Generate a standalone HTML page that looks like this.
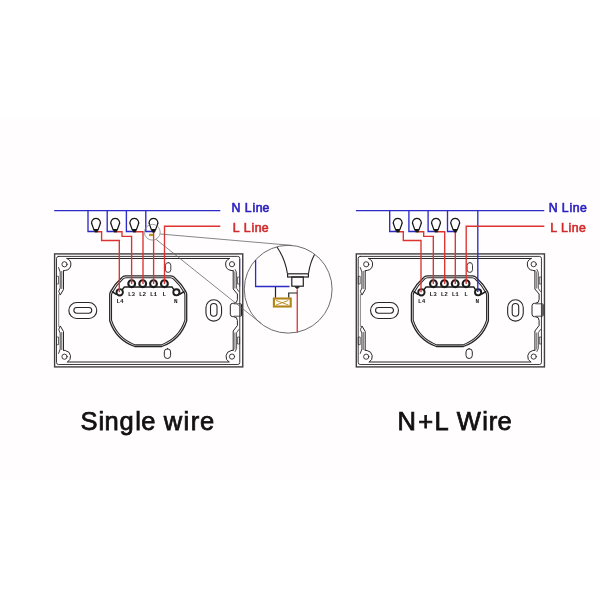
<!DOCTYPE html>
<html><head><meta charset="utf-8"><title>Wiring diagram</title>
<style>
html,body{margin:0;padding:0;background:#fff;}
body{width:600px;height:600px;overflow:hidden;position:relative;font-family:"Liberation Sans",sans-serif;}
svg{position:absolute;left:0;top:0;display:block;filter:blur(0.4px);}
</style></head>
<body>
<svg width="600" height="600" viewBox="0 0 600 600">
<rect width="600" height="600" fill="#fff"/>
<rect x="0" y="118.5" width="600" height="361" fill="#fffdfe"/>
<g transform="translate(0,0)" fill="none" stroke="#272727" stroke-width="1" stroke-linecap="round" stroke-linejoin="round">
<rect x="54.6" y="253.9" width="188.15" height="113" stroke="#404040" stroke-width="1.4" stroke-linejoin="miter"/>
<rect x="56.5" y="256.4" width="183.25" height="108.1" rx="2" stroke-width="0.9"/>
<path d="M67,258.5 H229.5 M67.6,362 H229"/>
<path d="M67,258.5 A6.2,6.2 0 0 1 65.5,270.4 L63.5,270.8"/>
<circle cx="64.5" cy="264.3" r="2.6" stroke-width="0.9"/>
<path d="M229.5,258.5 A6.2,6.2 0 0 0 231,270.4 L233.2,270.8"/>
<circle cx="232" cy="264.2" r="2.6" stroke-width="0.9"/>
<path d="M67.6,362 A6.2,6.2 0 0 0 65.5,350.6 L63.5,350.2"/>
<circle cx="64.5" cy="356.7" r="2.6" stroke-width="0.9"/>
<path d="M229,362 A6.2,6.2 0 0 1 231,350.6 L233.2,350.2"/>
<circle cx="232" cy="356.6" r="2.6" stroke-width="0.9"/>
<path d="M58.7,294.5 V326.5" stroke-width="0.7" stroke="#555"/>
<path d="M63.5,270.8 V289.5 L60.4,294.8"/>
<path d="M58.6,267.6 L60.2,272 V288 L58.7,291.3 L60,294.6" stroke-width="0.9"/>
<path d="M61.6,271 V289" stroke="#8a8a8a" stroke-width="1.6" stroke-linecap="butt"/>
<rect x="56.9" y="276.3" width="1.6" height="7.7" stroke-width="0.7"/>
<path d="M63.5,350.2 V331.5 L60.4,326.2"/>
<path d="M58.6,353.4 L60.2,349 V333 L58.7,329.7 L60,326.4" stroke-width="0.9"/>
<path d="M61.6,350 V332" stroke="#8a8a8a" stroke-width="1.6" stroke-linecap="butt"/>
<rect x="56.9" y="337" width="1.6" height="7.7" stroke-width="0.7"/>
<path d="M233.2,270.8 V289 L237.4,294 V299.5 Q237.4,303.3 233.5,303.3 H232.8 Q230.3,303.3 230.3,305.8 V314.2 Q230.3,316.7 232.8,316.7 H233.5 Q237.4,316.7 237.4,320.5 V325.5 L233.2,331 V350.2"/>
<path d="M235.2,269.5 L236.6,272.5 V288.3 L238.8,291.5 M235.2,351.5 L236.6,348.5 V332.7 L238.8,329.5" stroke-width="0.8"/>
<path d="M234.9,271.5 V288.5 M234.9,332.5 V349.5" stroke="#8a8a8a" stroke-width="1.4" stroke-linecap="butt"/>
<rect x="238" y="277" width="1.6" height="7" stroke-width="0.7"/><rect x="238" y="337" width="1.6" height="7" stroke-width="0.7"/>
<path d="M241.3,304.8 V315.2" stroke-width="1.4" stroke="#222"/>
<path d="M234,303.8 H240.8 M234,316.2 H240.8" stroke-width="0.8"/>
<rect x="68.85" y="302.55" width="27.9" height="15.9" rx="7.95" stroke-width="1.1"/>
<rect x="73.85" y="307.45" width="17.9" height="5.8" rx="2.9" stroke-width="1.1"/>
<rect x="205.95" y="299.75" width="15.6" height="21.4" rx="7.8" stroke-width="1.1"/>
<rect x="210.5" y="303.5" width="6.5" height="12.7" rx="3.25" stroke-width="1.1"/>
<rect x="165.4" y="262.6" width="5.4" height="9.8" rx="2.7" stroke-width="0.9"/>
<rect x="164.3" y="348.8" width="6.3" height="9.7" rx="3.1" stroke-width="1"/>
<path d="M125.4,275.8 H171 Q173,275.9 174.5,277.4 Q181.5,283.6 185.7,291.4 Q186.7,293 186.7,294.8 V320.7 A40.7,40.7 0 0 1 161.7,346.5 H134.7 A40.7,40.7 0 0 1 109.7,320.7 V294.8 Q109.7,293 110.7,291.4 Q114.9,283.6 121.9,277.4 Q123.4,275.9 125.4,275.8 Z" stroke-width="1.3"/>
<path d="M126,277.7 H170.4 Q172,277.8 173.3,278.9 Q180,285 184,292.4 Q184.9,293.8 184.9,295.2 V320.2 A38.9,38.9 0 0 1 161.2,344.9 H135.2 A38.9,38.9 0 0 1 111.5,320.2 V295.2 Q111.5,293.8 112.4,292.4 Q116.4,285 123.1,278.9 Q124.4,277.8 126,277.7 Z" stroke-width="1.1"/>
<path d="M112.3,291.7 L116.2,294.3 M122.6,289.3 L124.4,286.9 H172 L173.6,289.3 M180.1,294 L184,291.7" stroke-width="1.5" stroke="#1c1c1c"/>
</g>
<g transform="translate(301.7,0)" fill="none" stroke="#272727" stroke-width="1" stroke-linecap="round" stroke-linejoin="round">
<rect x="54.6" y="253.9" width="188.15" height="113" stroke="#404040" stroke-width="1.4" stroke-linejoin="miter"/>
<rect x="56.5" y="256.4" width="183.25" height="108.1" rx="2" stroke-width="0.9"/>
<path d="M67,258.5 H229.5 M67.6,362 H229"/>
<path d="M67,258.5 A6.2,6.2 0 0 1 65.5,270.4 L63.5,270.8"/>
<circle cx="64.5" cy="264.3" r="2.6" stroke-width="0.9"/>
<path d="M229.5,258.5 A6.2,6.2 0 0 0 231,270.4 L233.2,270.8"/>
<circle cx="232" cy="264.2" r="2.6" stroke-width="0.9"/>
<path d="M67.6,362 A6.2,6.2 0 0 0 65.5,350.6 L63.5,350.2"/>
<circle cx="64.5" cy="356.7" r="2.6" stroke-width="0.9"/>
<path d="M229,362 A6.2,6.2 0 0 1 231,350.6 L233.2,350.2"/>
<circle cx="232" cy="356.6" r="2.6" stroke-width="0.9"/>
<path d="M58.7,294.5 V326.5" stroke-width="0.7" stroke="#555"/>
<path d="M63.5,270.8 V289.5 L60.4,294.8"/>
<path d="M58.6,267.6 L60.2,272 V288 L58.7,291.3 L60,294.6" stroke-width="0.9"/>
<path d="M61.6,271 V289" stroke="#8a8a8a" stroke-width="1.6" stroke-linecap="butt"/>
<rect x="56.9" y="276.3" width="1.6" height="7.7" stroke-width="0.7"/>
<path d="M63.5,350.2 V331.5 L60.4,326.2"/>
<path d="M58.6,353.4 L60.2,349 V333 L58.7,329.7 L60,326.4" stroke-width="0.9"/>
<path d="M61.6,350 V332" stroke="#8a8a8a" stroke-width="1.6" stroke-linecap="butt"/>
<rect x="56.9" y="337" width="1.6" height="7.7" stroke-width="0.7"/>
<path d="M233.2,270.8 V289 L237.4,294 V299.5 Q237.4,303.3 233.5,303.3 H232.8 Q230.3,303.3 230.3,305.8 V314.2 Q230.3,316.7 232.8,316.7 H233.5 Q237.4,316.7 237.4,320.5 V325.5 L233.2,331 V350.2"/>
<path d="M235.2,269.5 L236.6,272.5 V288.3 L238.8,291.5 M235.2,351.5 L236.6,348.5 V332.7 L238.8,329.5" stroke-width="0.8"/>
<path d="M234.9,271.5 V288.5 M234.9,332.5 V349.5" stroke="#8a8a8a" stroke-width="1.4" stroke-linecap="butt"/>
<rect x="238" y="277" width="1.6" height="7" stroke-width="0.7"/><rect x="238" y="337" width="1.6" height="7" stroke-width="0.7"/>
<path d="M241.3,304.8 V315.2" stroke-width="1.4" stroke="#222"/>
<path d="M234,303.8 H240.8 M234,316.2 H240.8" stroke-width="0.8"/>
<rect x="68.85" y="302.55" width="27.9" height="15.9" rx="7.95" stroke-width="1.1"/>
<rect x="73.85" y="307.45" width="17.9" height="5.8" rx="2.9" stroke-width="1.1"/>
<rect x="205.95" y="299.75" width="15.6" height="21.4" rx="7.8" stroke-width="1.1"/>
<rect x="210.5" y="303.5" width="6.5" height="12.7" rx="3.25" stroke-width="1.1"/>
<rect x="165.4" y="262.6" width="5.4" height="9.8" rx="2.7" stroke-width="0.9"/>
<rect x="164.3" y="348.8" width="6.3" height="9.7" rx="3.1" stroke-width="1"/>
<path d="M125.4,275.8 H171 Q173,275.9 174.5,277.4 Q181.5,283.6 185.7,291.4 Q186.7,293 186.7,294.8 V320.7 A40.7,40.7 0 0 1 161.7,346.5 H134.7 A40.7,40.7 0 0 1 109.7,320.7 V294.8 Q109.7,293 110.7,291.4 Q114.9,283.6 121.9,277.4 Q123.4,275.9 125.4,275.8 Z" stroke-width="1.3"/>
<path d="M126,277.7 H170.4 Q172,277.8 173.3,278.9 Q180,285 184,292.4 Q184.9,293.8 184.9,295.2 V320.2 A38.9,38.9 0 0 1 161.2,344.9 H135.2 A38.9,38.9 0 0 1 111.5,320.2 V295.2 Q111.5,293.8 112.4,292.4 Q116.4,285 123.1,278.9 Q124.4,277.8 126,277.7 Z" stroke-width="1.1"/>
<path d="M112.3,291.7 L116.2,294.3 M122.6,289.3 L124.4,286.9 H172 L173.6,289.3 M180.1,294 L184,291.7" stroke-width="1.5" stroke="#1c1c1c"/>
</g>
<g transform="translate(0,0)" fill="#fff" stroke="#1c1c1c" stroke-width="2.1">
<circle cx="131.7" cy="283.7" r="3.4"/>
<circle cx="142.7" cy="283.7" r="3.4"/>
<circle cx="153.5" cy="283.7" r="3.4"/>
<circle cx="164.4" cy="283.7" r="3.4"/>
<circle cx="119.7" cy="292.3" r="3.2" stroke-width="1.9"/>
<circle cx="176.4" cy="292.3" r="3.1" stroke-width="1.9"/>
</g>
<g transform="translate(301.7,0)" fill="#fff" stroke="#1c1c1c" stroke-width="2.1">
<circle cx="131.7" cy="283.7" r="3.4"/>
<circle cx="142.7" cy="283.7" r="3.4"/>
<circle cx="153.5" cy="283.7" r="3.4"/>
<circle cx="164.4" cy="283.7" r="3.4"/>
<circle cx="119.7" cy="292.3" r="3.2" stroke-width="1.9"/>
<circle cx="176.4" cy="292.3" r="3.1" stroke-width="1.9"/>
</g>
<g transform="translate(0,0)" fill="none" stroke-width="1.35">
<g stroke="#2b2bc6">
<path d="M54.2,210.55 H220.3"/>
<path d="M88,210.55 V231.5 H94.5"/>
<path d="M107.2,210.55 V231.5 H113.7"/>
<path d="M126.4,210.55 V231.5 H132.8"/>
<path d="M145.8,210.55 V231.5 H152.0"/>
</g>
<g stroke="#dc3230">
<path d="M164.5,284 V226.25 H220.3"/>
<path d="M97,231.7 H101.6 V240.5 H119.3 V292.3"/>
<path d="M116.2,231.7 H122 V236.3 H131.6 V284"/>
<path d="M135.3,231.7 H143 V284"/>
<path d="M153.6,232 V284"/>
</g></g>
<g transform="translate(301.7,0)" fill="none" stroke-width="1.35">
<g stroke="#2b2bc6">
<path d="M54.2,210.55 H242.6"/>
<path d="M88,210.55 V231.5 H94.5"/>
<path d="M107.2,210.55 V231.5 H113.7"/>
<path d="M126.4,210.55 V231.5 H132.8"/>
<path d="M145.8,210.55 V231.5 H152.0"/>
<path d="M176.1,210.55 V292"/>
</g>
<g stroke="#dc3230">
<path d="M164.5,284 V226.25 H242.6"/>
<path d="M97,231.7 H101.6 V240.5 H119.3 V292.3"/>
<path d="M116.2,231.7 H122 V236.3 H131.6 V284"/>
<path d="M135.3,231.7 H143 V284"/>
<path d="M153.6,232 V284"/>
</g></g>
<g transform="translate(0,0)" font-family="'Liberation Mono', monospace" font-weight="bold" font-size="6" fill="#1a1a1a" text-anchor="middle">
<text x="131.5" y="295.7">L3</text>
<text x="142.6" y="295.7">L2</text>
<text x="153.6" y="295.7">L1</text>
<text x="164.4" y="295.7">L</text>
<text x="120" y="303.3">L4</text>
<text x="175.7" y="303.3">N</text>
</g>
<g transform="translate(301.7,0)" font-family="'Liberation Mono', monospace" font-weight="bold" font-size="6" fill="#1a1a1a" text-anchor="middle">
<text x="131.5" y="295.7">L3</text>
<text x="142.6" y="295.7">L2</text>
<text x="153.6" y="295.7">L1</text>
<text x="164.4" y="295.7">L</text>
<text x="120" y="303.3">L4</text>
<text x="175.7" y="303.3">N</text>
</g>
<g transform="translate(0,0)" fill="#fff" stroke="#151515" stroke-width="1.25" stroke-linejoin="round">
<path d="M93.9,229.6 L92.1,224.8 A4.4,4.4 0 1 1 99.9,224.8 L98.1,229.6 Z"/>
<path d="M93.8,229.5 H98.2 L97.3,232.2 H94.7 Z" fill="#151515" stroke-width="0.5"/>
<path d="M113.1,229.6 L111.3,224.8 A4.4,4.4 0 1 1 119.1,224.8 L117.3,229.6 Z"/>
<path d="M113.0,229.5 H117.4 L116.5,232.2 H113.9 Z" fill="#151515" stroke-width="0.5"/>
<path d="M132.2,229.6 L130.4,224.8 A4.4,4.4 0 1 1 138.2,224.8 L136.4,229.6 Z"/>
<path d="M132.1,229.5 H136.5 L135.6,232.2 H133.0 Z" fill="#151515" stroke-width="0.5"/>
<path d="M151.4,229.6 L149.6,224.8 A4.4,4.4 0 1 1 157.4,224.8 L155.6,229.6 Z"/>
<path d="M151.3,229.5 H155.7 L154.8,232.2 H152.2 Z" fill="#151515" stroke-width="0.5"/>
</g>
<g transform="translate(301.7,0)" fill="#fff" stroke="#151515" stroke-width="1.25" stroke-linejoin="round">
<path d="M93.9,229.6 L92.1,224.8 A4.4,4.4 0 1 1 99.9,224.8 L98.1,229.6 Z"/>
<path d="M93.8,229.5 H98.2 L97.3,232.2 H94.7 Z" fill="#151515" stroke-width="0.5"/>
<path d="M113.1,229.6 L111.3,224.8 A4.4,4.4 0 1 1 119.1,224.8 L117.3,229.6 Z"/>
<path d="M113.0,229.5 H117.4 L116.5,232.2 H113.9 Z" fill="#151515" stroke-width="0.5"/>
<path d="M132.2,229.6 L130.4,224.8 A4.4,4.4 0 1 1 138.2,224.8 L136.4,229.6 Z"/>
<path d="M132.1,229.5 H136.5 L135.6,232.2 H133.0 Z" fill="#151515" stroke-width="0.5"/>
<path d="M151.4,229.6 L149.6,224.8 A4.4,4.4 0 1 1 157.4,224.8 L155.6,229.6 Z"/>
<path d="M151.3,229.5 H155.7 L154.8,232.2 H152.2 Z" fill="#151515" stroke-width="0.5"/>
</g>
<path d="M239.6,259 V286.5" stroke="#3a3ad0" stroke-width="1.1" fill="none"/>
<g fill="none">
<circle cx="152.3" cy="232.2" r="7.9" stroke="#7a7a7a" stroke-width="0.7"/>
<rect x="149" y="233.8" width="4.2" height="2.3" fill="#b8962a" stroke="none"/>
<path d="M160.2,234 L292,245.4" stroke="#686868" stroke-width="0.8"/>
<path d="M156,239.3 L260.8,323.2" stroke="#686868" stroke-width="0.8"/>
<circle cx="288.2" cy="289.2" r="43.9" stroke="#5c5c5c" stroke-width="0.9"/>
<path d="M255.6,260 V286.5 H289.5" stroke="#2b2bc6" stroke-width="1.3"/>
<path d="M277,247 Q285,258.5 287.4,273.5 M314.5,254.5 Q310,263 308.5,273.5" stroke="#222" stroke-width="1.1"/>
<rect x="287.6" y="273.8" width="20.8" height="3.2" stroke="#222" stroke-width="1.2"/>
<rect x="291.8" y="277" width="11.5" height="9.2" stroke="#222" stroke-width="1.2"/>
<path d="M294.8,286.8 H299.6 L297.2,289 Z" fill="#222" stroke="#222" stroke-width="0.6"/>
<path d="M297.25,289.5 V332.6" stroke="#dc3230" stroke-width="1.3"/>
<path d="M297.2,293 H288.75 V297.8 M275.5,287 V297.8" stroke="#222" stroke-width="1.2"/>
<rect x="273.9" y="298.5" width="16.8" height="8" stroke="#b08416" stroke-width="2.1"/>
<path d="M276,300.4 L288.4,305 M276,305 L288.4,300.4" stroke="#b98c1e" stroke-width="0.9"/>
</g>
<g font-family="'Liberation Sans', sans-serif" font-size="12.3" stroke-width="0.6" stroke-linejoin="round">
<text x="231.6 240.5 244.8 252.4 255.7 262.6" y="212" fill="#2b20c0" stroke="#2b20c0">N Line</text>
<text x="232.7 240 243.8 251.5 254.7 261.8" y="232.2" fill="#d02b2b" stroke="#d02b2b">L Line</text>
<text x="548.7 557.5 561.8 569.4 572.7 580" y="212.1" fill="#2b20c0" stroke="#2b20c0">N Line</text>
<text x="550.3 557.5 561 568.6 571.8 578.9" y="232.4" fill="#d02b2b" stroke="#d02b2b">L Line</text>
</g>
<g font-family="'Liberation Sans', sans-serif" font-size="25.5" fill="#111" stroke="#111" stroke-width="0.75">
<text x="80.5 98.5 104.6 119.5 135.2 141.3 155 163.8 183.5 190.8 199.9" y="429.7">Single wire</text>
<text x="397.5 418.3 434.6 449 456.7 482.2 488.8 497.6" y="429.5">N+L Wire</text>
</g>
</svg>
</body></html>
